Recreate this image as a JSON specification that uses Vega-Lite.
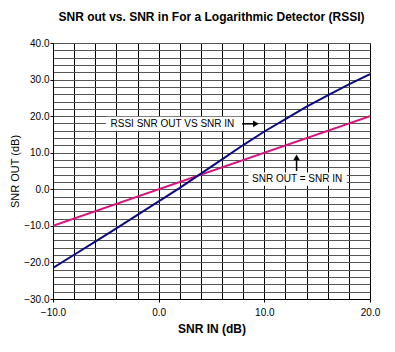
{
  "$schema": "https://vega.github.io/schema/vega-lite/v6.json",
  "autosize": "none",
  "width": 317,
  "height": 256,
  "padding": {"left": 53, "top": 43, "right": 25, "bottom": 53},
  "background": "white",
  "title": {"text": "SNR out vs. SNR in For a Logarithmic Detector (RSSI)", "font": "Liberation Sans", "fontSize": 12, "fontWeight": "bold", "color": "black", "offset": 14},
  "config": {"view": {"stroke": null}, "font": "Liberation Sans"},
  "datasets": {
    "curves": [
      {"snr_in": -10, "snr_out": -10, "series": "SNR OUT = SNR IN"},
      {"snr_in": 20, "snr_out": 20, "series": "SNR OUT = SNR IN"},
      {"snr_in": -10, "snr_out": -21.5, "series": "RSSI"},
      {"snr_in": -8, "snr_out": -17.9, "series": "RSSI"},
      {"snr_in": -6, "snr_out": -14.3, "series": "RSSI"},
      {"snr_in": -4, "snr_out": -10.7, "series": "RSSI"},
      {"snr_in": -2, "snr_out": -7.0, "series": "RSSI"},
      {"snr_in": 0, "snr_out": -3.3, "series": "RSSI"},
      {"snr_in": 2, "snr_out": 0.4, "series": "RSSI"},
      {"snr_in": 4, "snr_out": 4.3, "series": "RSSI"},
      {"snr_in": 6, "snr_out": 8.2, "series": "RSSI"},
      {"snr_in": 8, "snr_out": 12.1, "series": "RSSI"},
      {"snr_in": 10, "snr_out": 15.8, "series": "RSSI"},
      {"snr_in": 12, "snr_out": 19.2, "series": "RSSI"},
      {"snr_in": 14, "snr_out": 22.6, "series": "RSSI"},
      {"snr_in": 16, "snr_out": 25.7, "series": "RSSI"},
      {"snr_in": 18, "snr_out": 28.7, "series": "RSSI"},
      {"snr_in": 20, "snr_out": 31.5, "series": "RSSI"}
    ],
    "labels": [
      {"label": "RSSI SNR OUT VS SNR IN", "x": 1.3, "y": 17.9, "x0": -5.0, "x1": 7.9, "y0": 16.0, "y1": 19.8},
      {"label": "SNR OUT = SNR IN", "x": 13.1, "y": 2.8, "x0": 8.5, "x1": 17.8, "y0": 1.0, "y1": 4.6}
    ],
    "arrows": [
      {"x": 7.9, "x2": 9.0, "y": 17.9, "y2": 17.9, "hx": 9.2, "hy": 17.9, "dir": "right"},
      {"x": 13.05, "x2": 13.05, "y": 5.0, "y2": 8.2, "hx": 13.05, "hy": 8.7, "dir": "up"}
    ]
  },
  "layer": [
    {
      "data": {"name": "curves"},
      "mark": {"type": "line", "strokeWidth": 2, "clip": true},
      "encoding": {
        "x": {
          "field": "snr_in", "type": "quantitative",
          "scale": {"domain": [-10, 20], "nice": false, "zero": false},
          "axis": {
            "title": "SNR IN (dB)", "titleFont": "Liberation Sans", "titleFontSize": 12, "titleFontWeight": "bold", "titleColor": "black", "titlePadding": 6,
            "values": [-10, -8, -6, -4, -2, 0, 2, 4, 6, 8, 10, 12, 14, 16, 18, 20],
            "tickCount": 100,
            "labelExpr": "datum.value % 10 === 0 ? format(datum.value, '.1f') : ''",
            "labelOverlap": false, "labelFlush": false,
            "labelFont": "Liberation Sans", "labelFontSize": 10, "labelColor": "black", "labelPadding": 5,
            "tickSize": 3, "tickColor": "black",
            "tickOpacity": {"condition": {"test": "datum.value % 10 === 0", "value": 1}, "value": 0},
            "domainColor": "black", "domainWidth": 1,
            "grid": true, "gridColor": "black", "gridWidth": 1, "gridOpacity": 1
          }
        },
        "y": {
          "field": "snr_out", "type": "quantitative",
          "scale": {"domain": [-30, 40], "nice": false, "zero": false},
          "axis": {
            "title": "SNR OUT (dB)", "titleFont": "Liberation Sans", "titleFontSize": 11, "titleFontWeight": "normal", "titleColor": "black", "titlePadding": 3,
            "values": [-30, -28, -26, -24, -22, -20, -18, -16, -14, -12, -10, -8, -6, -4, -2, 0, 2, 4, 6, 8, 10, 12, 14, 16, 18, 20, 22, 24, 26, 28, 30, 32, 34, 36, 38, 40],
            "tickCount": 100,
            "labelExpr": "datum.value % 10 === 0 ? format(datum.value, '.1f') : ''",
            "labelOverlap": false, "labelFlush": false,
            "labelFont": "Liberation Sans", "labelFontSize": 10, "labelColor": "black", "labelPadding": 1,
            "tickSize": 3, "tickColor": "black",
            "tickOpacity": {"condition": {"test": "datum.value % 10 === 0", "value": 1}, "value": 0},
            "domainColor": "black", "domainWidth": 1,
            "grid": true, "gridColor": "#555555", "gridWidth": 1.2, "gridOpacity": 1
          }
        },
        "color": {
          "field": "series", "type": "nominal",
          "scale": {"domain": ["RSSI", "SNR OUT = SNR IN"], "range": ["#0a0a80", "#d8137d"]},
          "legend": null
        }
      }
    },
    {
      "data": {"name": "labels"},
      "mark": {"type": "rect", "fill": "white"},
      "encoding": {
        "x": {"field": "x0", "type": "quantitative"},
        "x2": {"field": "x1"},
        "y": {"field": "y0", "type": "quantitative"},
        "y2": {"field": "y1"}
      }
    },
    {
      "data": {"name": "labels"},
      "mark": {"type": "text", "font": "Liberation Sans", "fontSize": 10, "color": "black", "align": "center", "baseline": "middle"},
      "encoding": {
        "x": {"field": "x", "type": "quantitative"},
        "y": {"field": "y", "type": "quantitative"},
        "text": {"field": "label"}
      }
    },
    {
      "data": {"name": "arrows"},
      "mark": {"type": "rule", "color": "black", "strokeWidth": 1.5},
      "encoding": {
        "x": {"field": "x", "type": "quantitative"},
        "x2": {"field": "x2"},
        "y": {"field": "y", "type": "quantitative"},
        "y2": {"field": "y2"}
      }
    },
    {
      "data": {"name": "arrows"},
      "mark": {"type": "point", "filled": true, "color": "black", "opacity": 1, "size": 45},
      "encoding": {
        "x": {"field": "hx", "type": "quantitative"},
        "y": {"field": "hy", "type": "quantitative"},
        "shape": {"field": "dir", "type": "nominal", "scale": {"domain": ["right", "up"], "range": ["triangle-right", "triangle-up"]}, "legend": null}
      }
    }
  ]
}
